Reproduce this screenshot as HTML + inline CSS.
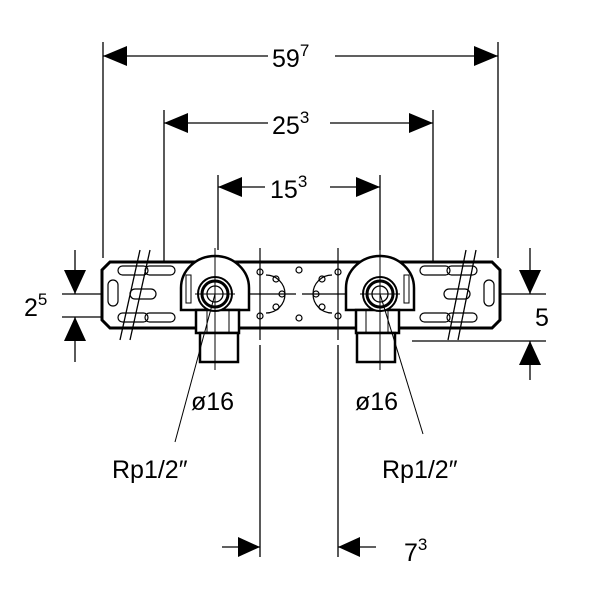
<!DOCTYPE html>
<html><head><meta charset="utf-8"><style>
html,body{margin:0;padding:0;background:#fff;}
svg{display:block;}
text{font-family:"Liberation Sans",sans-serif;fill:#000;}
</style></head><body>
<svg width="600" height="600" viewBox="0 0 600 600" xmlns="http://www.w3.org/2000/svg">
<g stroke="#000" stroke-width="1.3" fill="none">
<line x1="103" y1="42" x2="103" y2="258"/>
<line x1="498" y1="42" x2="498" y2="258"/>
<line x1="164" y1="110" x2="164" y2="262"/>
<line x1="433" y1="110" x2="433" y2="262"/>
<line x1="218" y1="175" x2="218" y2="250"/>
<line x1="380" y1="175" x2="380" y2="250"/>
<line x1="260" y1="345" x2="260" y2="557"/>
<line x1="338" y1="345" x2="338" y2="557"/>
<line x1="103" y1="56" x2="268" y2="56"/><line x1="335" y1="56" x2="498" y2="56"/>
<line x1="164" y1="123" x2="268" y2="123"/><line x1="330" y1="123" x2="433" y2="123"/>
<line x1="218" y1="187" x2="265" y2="187"/><line x1="330" y1="187" x2="380" y2="187"/>
<line x1="222" y1="547" x2="260" y2="547"/><line x1="338" y1="547" x2="376" y2="547"/>
<line x1="62" y1="294" x2="190" y2="294"/>
<line x1="62" y1="317" x2="190" y2="317"/>
<line x1="75" y1="250" x2="75" y2="294"/>
<line x1="75" y1="317" x2="75" y2="362"/>
<line x1="410" y1="294" x2="546" y2="294"/>
<line x1="412" y1="341" x2="546" y2="341"/>
<line x1="530" y1="248" x2="530" y2="294"/>
<line x1="530" y1="341" x2="530" y2="380"/>
</g>
<g fill="#000">
<path d="M103,56l24,-10v20z"/><path d="M498,56l-24,-10v20z"/>
<path d="M164,123l24,-10v20z"/><path d="M433,123l-24,-10v20z"/>
<path d="M218,187l24,-10v20z"/><path d="M380,187l-24,-10v20z"/>
<path d="M260,547l-22,-10v20z"/><path d="M338,547l22,-10v20z"/>
<path d="M75,294l-11,-24h22z"/><path d="M75,317l-11,24h22z"/>
<path d="M530,294l-11,-24h22z"/><path d="M530,341l-11,24h22z"/>
</g>
<path d="M110,262H492L500,270V320L492,328H110L102,320V270z" fill="#fff" stroke="#000" stroke-width="3"/>
<g stroke="#000" stroke-width="1.2" fill="none">
<rect x="108" y="280" width="10" height="26" rx="5"/>
<rect x="484" y="280" width="10" height="26" rx="5"/>
<rect x="118" y="266" width="30" height="9" rx="4.5"/><rect x="145" y="266" width="30" height="9" rx="4.5"/>
<rect x="118" y="313" width="30" height="9" rx="4.5"/><rect x="145" y="313" width="30" height="9" rx="4.5"/>
<rect x="420" y="266" width="30" height="9" rx="4.5"/><rect x="447" y="266" width="30" height="9" rx="4.5"/>
<rect x="420" y="313" width="30" height="9" rx="4.5"/><rect x="447" y="313" width="30" height="9" rx="4.5"/>
<rect x="444" y="289" width="26" height="10" rx="5"/>
<rect x="130" y="289" width="26" height="10" rx="5"/>
<path d="M266,275a19,19 0 0 1 0,38"/><path d="M332,275a19,19 0 0 0 0,38"/>
<circle cx="260" cy="272" r="3"/><circle cx="260" cy="316" r="3"/><circle cx="276" cy="279" r="3"/><circle cx="276" cy="307" r="3"/><circle cx="282" cy="294" r="3"/>
<circle cx="338" cy="272" r="3"/><circle cx="338" cy="316" r="3"/><circle cx="322" cy="279" r="3"/><circle cx="322" cy="307" r="3"/><circle cx="316" cy="294" r="3"/>
<circle cx="299" cy="270" r="3"/><circle cx="299" cy="318" r="3"/>
<line x1="260" y1="248" x2="260" y2="340"/><line x1="338" y1="248" x2="338" y2="340"/>
<line x1="248" y1="294" x2="296" y2="294"/><line x1="302" y1="294" x2="350" y2="294"/>
</g>
<g stroke="#000" stroke-width="1.3">
<line x1="140" y1="250" x2="120" y2="340"/><line x1="150" y1="250" x2="130" y2="340"/>
<line x1="466" y1="250" x2="448" y2="340"/><line x1="476" y1="250" x2="458" y2="340"/>
</g>
<g id="f" stroke="#000" fill="#fff">
<path d="M181,310V288a34,32 0 0 1 68,0V310z" stroke-width="2.5"/>
<rect x="196" y="310" width="43" height="23" stroke-width="2.5"/>
<rect x="200" y="333" width="38" height="29" stroke-width="2.5"/>
<line x1="207" y1="310" x2="207" y2="333" stroke-width="1"/><line x1="229" y1="310" x2="229" y2="333" stroke-width="1"/>
<circle cx="215" cy="294" r="17" stroke-width="2"/>
<circle cx="215" cy="294" r="13" stroke-width="3"/>
<circle cx="215" cy="294" r="8" stroke-width="1.3"/>
<rect x="186" y="275" width="5" height="28" stroke-width="1"/>
</g>
<use href="#f" transform="translate(595,0) scale(-1,1)"/>
<g stroke="#000" stroke-width="1">
<line x1="215" y1="248" x2="215" y2="370"/><line x1="380" y1="248" x2="380" y2="370"/>
<line x1="195" y1="294" x2="235" y2="294"/><line x1="360" y1="294" x2="400" y2="294"/>
<line x1="215" y1="294" x2="175" y2="442"/><line x1="380" y1="294" x2="423" y2="434"/>
</g>
<text x="272" y="67" font-size="25">59<tspan font-size="17" dy="-11">7</tspan></text>
<text x="272" y="134" font-size="25">25<tspan font-size="17" dy="-11">3</tspan></text>
<text x="270" y="198" font-size="25">15<tspan font-size="17" dy="-11">3</tspan></text>
<text x="24" y="316" font-size="25">2<tspan font-size="17" dy="-11">5</tspan></text>
<text x="535" y="326" font-size="25">5</text>
<text x="191" y="410" font-size="25">ø16</text>
<text x="355" y="410" font-size="25">ø16</text>
<text x="112" y="478" font-size="25">Rp1/2″</text>
<text x="382" y="478" font-size="25">Rp1/2″</text>
<text x="404" y="561" font-size="25">7<tspan font-size="17" dy="-11">3</tspan></text>
</svg>
</body></html>
